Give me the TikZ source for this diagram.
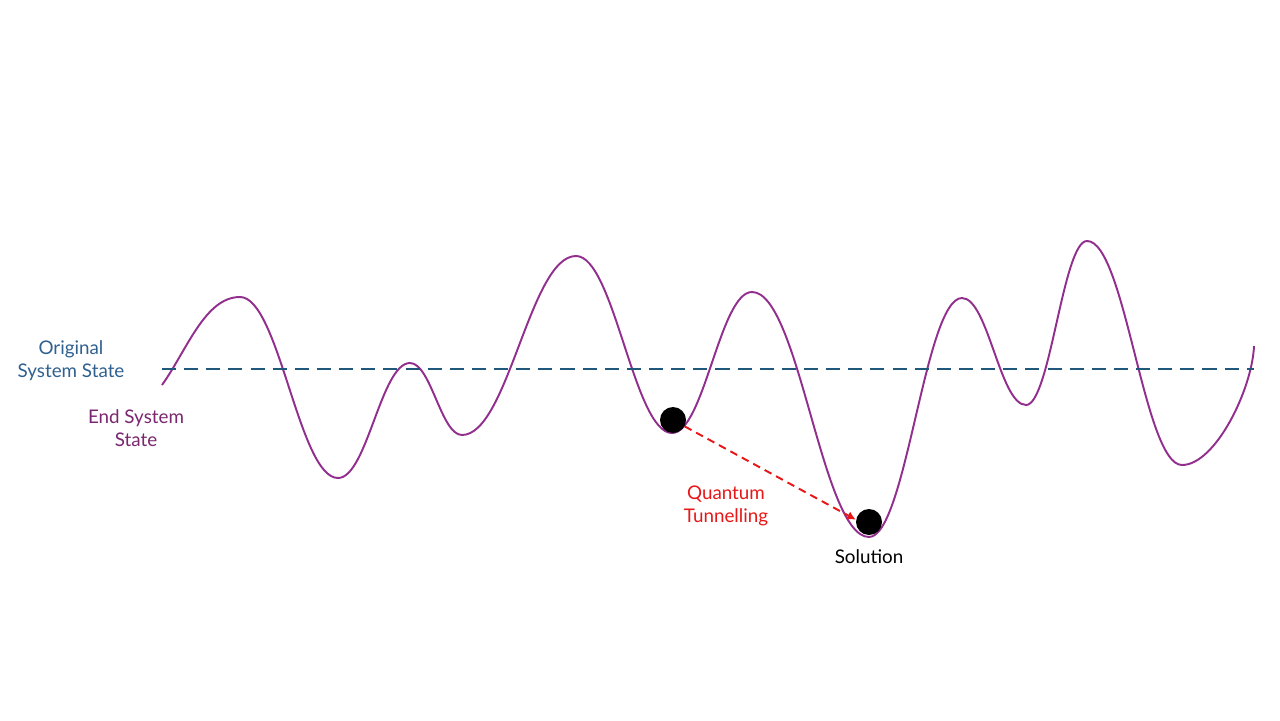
\documentclass[tikz,border=0pt]{standalone}
\usepackage{fontspec}
\setmainfont{Lato}
\usetikzlibrary{arrows.meta}
\definecolor{curvepurple}{RGB}{146,46,142}
\definecolor{levelblue}{RGB}{31,88,122}
\definecolor{origblue}{RGB}{47,96,143}
\definecolor{endpurple}{RGB}{122,38,112}
\definecolor{tunnelred}{RGB}{232,22,22}
\tikzset{
	landscape/.style = {draw=curvepurple, line width=1.1pt},
	level/.style = {draw=levelblue, line width=1.4pt, dash pattern=on 8pt off 4.6pt},
	ball/.style = {circle, fill=black, inner sep=0pt, minimum size=0.52cm},
	tunnel/.style = {draw=tunnelred, line width=1.1pt, dash pattern=on 4.4pt off 3pt,
		-{Latex[length=5pt, width=5pt]}},
	label/.style = {align=center, font=\fontsize{10.7}{13}\selectfont},
}

\begin{document}
\begin{tikzpicture}[x=0.02cm, y=-0.02cm]
	\useasboundingbox (0, 0) rectangle (1280, 720);
	% energy landscape
	\draw [landscape] (162, 385)
		.. controls (187, 350) and (205, 297) .. (240, 297)
		.. controls (279, 297) and (299, 478) .. (338, 478)
		.. controls (367, 478) and (381, 363) .. (410, 363)
		.. controls (431, 363) and (441, 435) .. (462, 435)
		.. controls (508, 435) and (530, 256) .. (576, 256)
		.. controls (614, 256) and (634, 433) .. (672, 433)
		.. controls (704, 433) and (720, 292) .. (752, 292)
		.. controls (799, 292) and (822, 537) .. (869, 537)
		.. controls (906, 537) and (925, 298) .. (962, 298)
		.. controls (988, 298) and (1000, 405) .. (1026, 405)
		.. controls (1050, 405) and (1063, 241) .. (1087, 241)
		.. controls (1125, 241) and (1144, 465) .. (1182, 465)
		.. controls (1215, 465) and (1252, 390) .. (1254, 346);
	% original level
	\coordinate (levelstart) at (162, 369);
	\coordinate (levelend) at (1254, 369);
	\draw [level] (levelstart) -- (levelend);
	\node [label, text=origblue] (original) at (71, 361) {Original\\System State};
	\node [label, text=endpurple] (endstate) at (136, 428) {End System\\State};
	% states
	\node [ball] (local) at (673, 420) {};
	\node [ball] (solution) at (869, 522) {};
	\draw [tunnel] (local) -- (solution.170);
	\node [label, text=tunnelred] (tunnelling) at (726, 506) {Quantum\\Tunnelling};
	\node [label] (soltext) at (869, 557) {Solution};
\end{tikzpicture}
\end{document}
